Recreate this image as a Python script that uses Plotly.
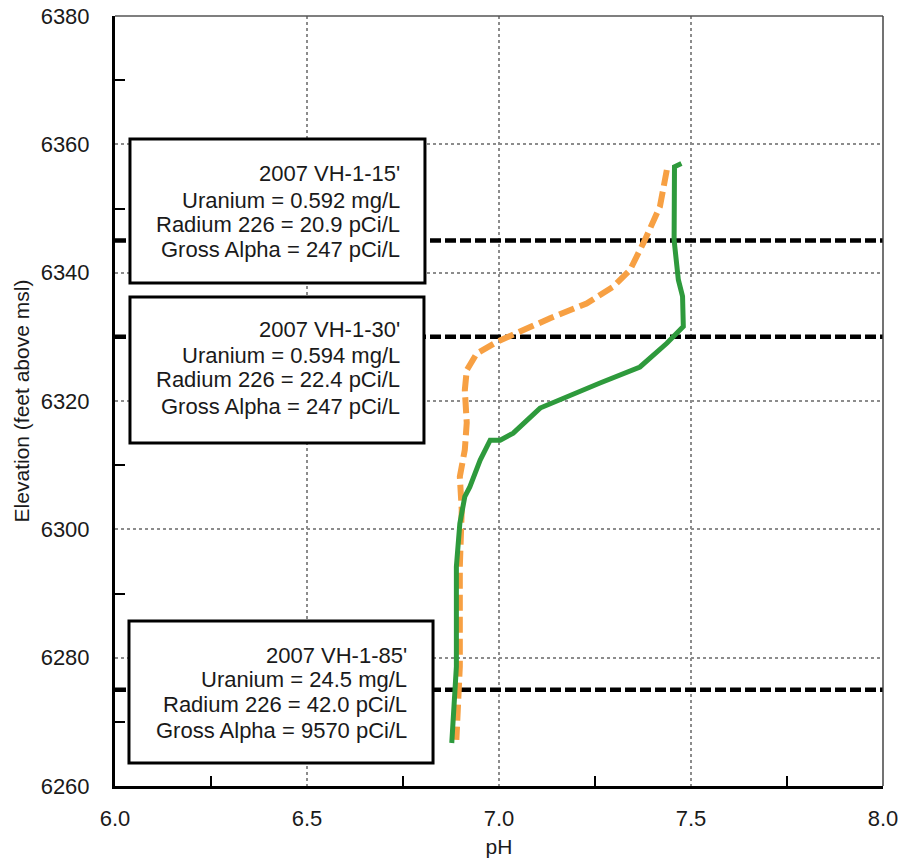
import plotly.graph_objects as go

# ---- data ----
orange_ph = [7.437, 7.419, 7.380, 7.341, 7.297, 7.228, 7.133, 7.046, 6.994, 6.942,
             6.916, 6.911, 6.916, 6.911, 6.898, 6.903, 6.898, 6.898, 6.889]
orange_elev = [6356.0, 6350.3, 6345.1, 6340.4, 6337.8, 6335.2, 6332.9, 6330.5, 6329.2, 6327.4,
               6324.8, 6321.7, 6316.6, 6312.4, 6308.2, 6303.0, 6294.2, 6278.6, 6267.2]

green_ph = [7.475, 7.457, 7.456, 7.467, 7.478, 7.480, 7.437, 7.367, 7.263, 7.133, 7.107,
            7.037, 7.003, 6.977, 6.951, 6.924, 6.911, 6.898, 6.889, 6.889, 6.881, 6.877]
green_elev = [6357.0, 6356.5, 6345.1, 6338.9, 6336.3, 6331.6, 6329.0, 6325.3, 6322.8, 6319.6, 6318.9,
              6315.0, 6313.9, 6313.9, 6310.8, 6306.6, 6305.1, 6300.9, 6294.2, 6278.6, 6271.8, 6266.7]

sample_elev = [6345, 6330, 6275]
sample_names = ["2007 VH-1-15'", "2007 VH-1-30'", "2007 VH-1-85'"]
uranium = ["0.592", "0.594", "24.5"]
radium = ["20.9", "22.4", "42.0"]
gross_alpha = ["247", "247", "9570"]

x_range = [6.0, 8.0]
y_range = [6260, 6380]

# ---- layout helpers (paper coords) ----
box_rects = [(0.0195, 0.6532, 0.4036, 0.8403),
             (0.0195, 0.4455, 0.4023, 0.6351),
             (0.0182, 0.0299, 0.4141, 0.2143)]
text_right = [0.3737, 0.3737, 0.3828]
line_y = [[0.7961, 0.7601, 0.7286, 0.6970],
          [0.5931, 0.5594, 0.5273, 0.4935],
          [0.1701, 0.1386, 0.1052, 0.0727]]

FONT = "Liberation Sans, Arial, sans-serif"
TXT = "#1a1a1a"

fig = go.Figure()

# sample depth dashed lines
for e in sample_elev:
    fig.add_trace(go.Scatter(x=x_range, y=[e, e], mode="lines",
                             line=dict(color="black", width=4.5, dash="11px,4px"),
                             showlegend=False, hoverinfo="skip"))

fig.add_trace(go.Scatter(x=orange_ph, y=orange_elev, mode="lines",
                         line=dict(color="#F7A043", width=6, dash="16px,6px"),
                         showlegend=False))
fig.add_trace(go.Scatter(x=green_ph, y=green_elev, mode="lines",
                         line=dict(color="#2E9A3C", width=5),
                         showlegend=False))

shapes = []
for (x0, y0, x1, y1) in box_rects:
    shapes.append(dict(type="rect", xref="paper", yref="paper", x0=x0, y0=y0, x1=x1, y1=y1,
                       fillcolor="white", line=dict(color="black", width=3), layer="above"))
# thin top / right border
shapes.append(dict(type="line", xref="paper", yref="paper", x0=0, x1=1, y0=1, y1=1,
                   line=dict(color="#555", width=1.5)))
shapes.append(dict(type="line", xref="paper", yref="paper", x0=1, x1=1, y0=0, y1=1,
                   line=dict(color="#444", width=1.5)))

annotations = []
for i in range(3):
    lines = [sample_names[i],
             f"Uranium = {uranium[i]} mg/L",
             f"Radium 226 = {radium[i]} pCi/L",
             f"Gross Alpha = {gross_alpha[i]} pCi/L"]
    for j, t in enumerate(lines):
        annotations.append(dict(text=t, xref="paper", yref="paper", x=text_right[i], y=line_y[i][j],
                                xanchor="right", yanchor="middle", showarrow=False,
                                font=dict(family=FONT, size=22, color=TXT)))

fig.update_layout(
    width=902, height=858,
    margin=dict(l=115, r=19, t=16, b=72),
    paper_bgcolor="white", plot_bgcolor="white",
    font=dict(family=FONT, size=22, color=TXT),
    shapes=shapes, annotations=annotations,
    showlegend=False,
)
fig.update_xaxes(range=x_range, dtick=0.5, tick0=6.0, tickformat=".1f", automargin=False,
                 showgrid=True, gridcolor="#8c8c8c", gridwidth=2, griddash="dot",
                 showline=True, linecolor="black", linewidth=3,
                 ticks="", ticklabelstandoff=11, zeroline=False,
                 minor=dict(ticks="inside", ticklen=10, tickwidth=2, tickcolor="black",
                            dtick=0.25, showgrid=False),
                 title=dict(text="pH", standoff=19, font=dict(size=21)))
fig.update_yaxes(range=y_range, dtick=20, tick0=6260, automargin=False,
                 showgrid=True, gridcolor="#8c8c8c", gridwidth=2, griddash="dot",
                 showline=True, linecolor="black", linewidth=3,
                 ticks="", ticklabelstandoff=18, zeroline=False,
                 minor=dict(ticks="inside", ticklen=10, tickwidth=2, tickcolor="black",
                            dtick=10, showgrid=False),
                 title=dict(text="Elevation (feet above msl)", standoff=6, font=dict(size=21)))

fig.write_html("out.html")
